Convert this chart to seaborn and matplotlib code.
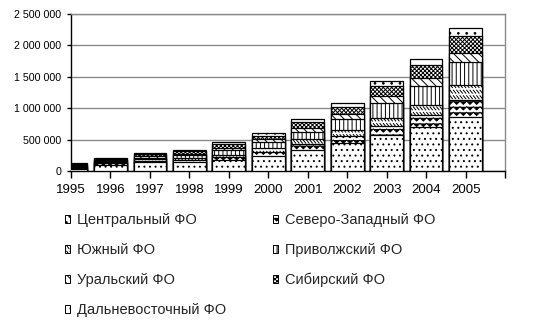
import numpy as np
import matplotlib
matplotlib.use("Agg")
import matplotlib.pyplot as plt
import seaborn as sns
from matplotlib import hatch as mhatch
from matplotlib.path import Path
from matplotlib.patches import Patch
from matplotlib.ticker import FuncFormatter, FixedLocator
import warnings
warnings.filterwarnings("ignore")

# ---------------- data ----------------
years = ["1995", "1996", "1997", "1998", "1999", "2000", "2001", "2002", "2003", "2004", "2005"]
central = [40000, 110000, 146000, 155000, 178000, 252000, 339000, 444000, 575000, 706000, 863000]
northwest = [15000, 20000, 25000, 30000, 45000, 63000, 90000, 120000, 146000, 195000, 263000]
south = [12000, 15000, 20000, 25000, 38000, 55000, 79000, 101000, 132000, 146000, 247000]
volga = [20000, 22000, 30000, 45000, 80000, 99000, 120000, 162000, 230000, 310000, 356000]
ural = [12000, 12000, 18000, 22000, 30000, 39000, 63000, 90000, 117000, 120000, 157000]
siberia = [20000, 20000, 33000, 40000, 60000, 61000, 94000, 104000, 162000, 211000, 263000]
fareast = [8000, 9000, 15000, 22000, 30000, 47000, 43000, 69000, 68000, 94000, 131000]

names = ["Центральный ФО", "Северо-Западный ФО", "Южный ФО", "Приволжский ФО",
         "Уральский ФО", "Сибирский ФО", "Дальневосточный ФО"]
values = [central, northwest, south, volga, ural, siberia, fareast]
y_ticks = [0, 500000, 1000000, 1500000, 2000000, 2500000]


# ---------------- custom hatches (wavy, dashed diagonal) ----------------
class WavyHatch(mhatch.HatchPatternBase):
    def __init__(self, hatch, density):
        self.num_rows = int(hatch.count("w") * density)
        self.num_segs = 30
        self.num_vertices = self.num_rows * (self.num_segs + 1) if self.num_rows else 0

    def set_vertices_and_codes(self, vertices, codes):
        n, m = self.num_rows, self.num_segs
        xs = np.linspace(0, 1, m + 1)
        offs = 0.016 * np.where(np.arange(m + 1) % 2 == 0, 1, -1)
        for i in range(n):
            y0 = (i + 0.5) / n
            a, b = i * (m + 1), (i + 1) * (m + 1)
            vertices[a:b, 0] = xs
            vertices[a:b, 1] = y0 + offs
            codes[a:b] = Path.LINETO
            codes[a] = Path.MOVETO


class DashDiagHatch(mhatch.HatchPatternBase):
    def __init__(self, hatch, density):
        self.num_rows = int(hatch.count("d") * density)
        self.per_row = 30
        self.num_vertices = self.num_rows * self.per_row * 2 if self.num_rows else 0

    def set_vertices_and_codes(self, vertices, codes):
        n, k = self.num_rows, self.per_row
        idx = 0
        for i in range(n):
            y0 = (i + 0.5) / n
            for j in range(k):
                x0 = j / k
                vertices[idx] = (x0, y0 + 0.015)
                vertices[idx + 1] = (x0 + 0.024, y0 - 0.015)
                codes[idx] = Path.MOVETO
                codes[idx + 1] = Path.LINETO
                idx += 2


mhatch._hatch_types.append(WavyHatch)
mhatch._hatch_types.append(DashDiagHatch)

hatches = ["...", "www", "ddd", "||||", "\\\\\\\\", "xxxxxxxx", ".."]

# ---------------- style ----------------
sns.set_theme(style="white")
plt.rcParams["font.family"] = ["Liberation Sans", "DejaVu Sans"]
plt.rcParams["hatch.linewidth"] = 0.7
plt.rcParams["hatch.color"] = "black"

fig = plt.figure(figsize=(5.36, 3.26), dpi=100)
fig.patch.set_facecolor("white")
ax = fig.add_axes([0.1325, 0.474, 0.8097, 0.4834])
ax.set_facecolor("white")

cum = np.cumsum(np.array(values, dtype=float), axis=0)
for i in reversed(range(len(values))):
    sns.barplot(x=years, y=cum[i], color="white", saturation=1, edgecolor="black",
                linewidth=0.9, hatch=hatches[i], width=0.83, errorbar=None, ax=ax,
                zorder=3)

ax.set_ylim(0, 2500000)
ax.set_xlim(0, len(years))
ax.yaxis.set_major_locator(FixedLocator(y_ticks))
ax.yaxis.set_major_formatter(FuncFormatter(lambda v, p: f"{int(v):,}".replace(",", " ")))
ax.grid(axis="y", color="#8a8a8a", linewidth=1.0, zorder=0)
ax.grid(axis="x", visible=False)
ax.set_axisbelow(True)
ax.set_xlabel("")
ax.set_ylabel("")

for s in ["left", "bottom"]:
    ax.spines[s].set_color("black")
    ax.spines[s].set_linewidth(1.0)
for s in ["top", "right"]:
    ax.spines[s].set_color("#8a8a8a")
    ax.spines[s].set_linewidth(1.0)

ax.tick_params(axis="y", which="major", left=True, length=3, width=1, color="black",
               labelsize=7.7, pad=4, labelcolor="black")
ax.set_xticks(np.arange(len(years)))
ax.set_xticklabels(years)
ax.set_xticks([len(years)], minor=True)
ax.tick_params(axis="x", which="both", bottom=True, length=5, width=1, color="black",
               labelsize=9.5, pad=4, labelcolor="black")

order = [0, 2, 4, 6, 1, 3, 5]
handles = [Patch(facecolor="white", edgecolor="black", linewidth=0.7,
                 hatch=hatches[i], label=names[i]) for i in order]
fig.legend(handles=handles, loc="upper left", bbox_to_anchor=(0.121, 0.347),
           ncol=2, frameon=False, fontsize=10.5, handlelength=0.38, handleheight=0.45,
           handletextpad=0.45, labelspacing=1.1, columnspacing=3.2, borderpad=0,
           borderaxespad=0)

fig.savefig("out.png", dpi=100, facecolor="white")
